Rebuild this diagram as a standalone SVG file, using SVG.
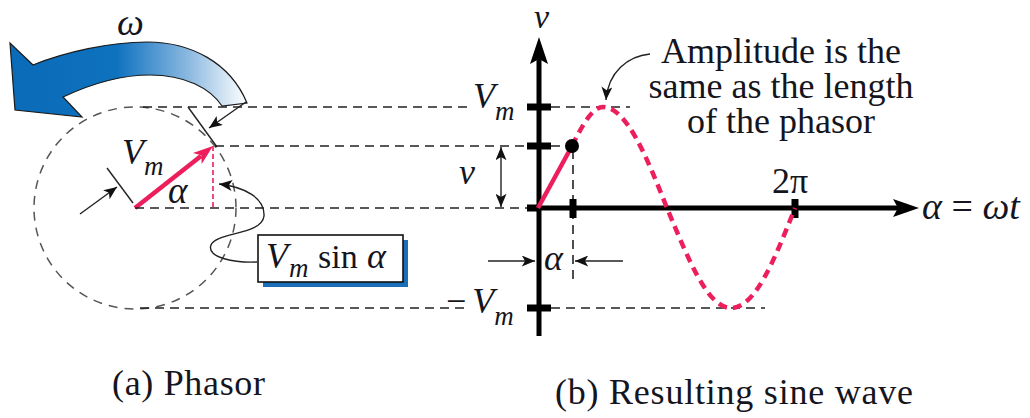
<svg xmlns="http://www.w3.org/2000/svg" width="1030" height="418" viewBox="0 0 1030 418">
<style>
.t{fill:#151520}
.i{font-style:italic}
.dash{fill:none;stroke:#222;stroke-width:1.6;stroke-dasharray:9 6}
.thin{fill:none;stroke:#222;stroke-width:1.4}
.axis{fill:none;stroke:#000;stroke-width:5}
.red{fill:none;stroke:#ec1e5c;stroke-width:4.5}
</style>
<defs>
<marker id="ah" viewBox="0 0 12 10" refX="12" refY="5" markerWidth="16" markerHeight="11" markerUnits="userSpaceOnUse" orient="auto-start-reverse">
<path d="M0,0 L12,5 L0,10 L3,5 Z" fill="#111"/>
</marker>
<linearGradient id="bg" x1="0" y1="0" x2="1" y2="0">
<stop offset="0" stop-color="#0a6bb8"/>
<stop offset="0.45" stop-color="#0f72bf"/>
<stop offset="0.75" stop-color="#8ab8e0"/>
<stop offset="1" stop-color="#ffffff"/>
</linearGradient>
</defs>
<g font-family="'Liberation Serif', 'Times New Roman', serif">
<g id="rotation">
<path d="M247,103 C 230,62 190,42 147,42 C 110,42 65,52 33,65 L 10,43 L 15,110 L 82,117 L 63,97 C 95,82 125,75 150,75 C 185,75 210,88 222,106 Z" fill="url(#bg)" stroke="#1a1a1a" stroke-width="1.2"/>
<text class="t i" x="117" y="35" font-size="38">ω</text>
</g>

<g id="phasor">
<circle cx="135" cy="208" r="101" fill="none" stroke="#555" stroke-width="1.5" stroke-dasharray="9 7"/>
<line x1="213" y1="146" x2="213" y2="208" stroke="#ec1e5c" stroke-width="1.6" stroke-dasharray="5 3"/>
<line x1="135" y1="208" x2="201" y2="156" stroke="#ec1e5c" stroke-width="4.5"/>
<polygon points="213,146 201.7,163.9 201.3,155.3 192.9,152.9" fill="#ec1e5c"/>
<text class="t i" x="122" y="164" font-size="36">V<tspan font-size="27" dy="11">m</tspan></text>
<text class="t i" x="168" y="203" font-size="37">α</text>
</g>

<g id="box">
<rect x="263" y="240" width="145" height="47" fill="#1b6fb8"/>
<rect x="258" y="235" width="145" height="47" fill="#fff" stroke="#111" stroke-width="1.6"/>
<text class="t i" x="266" y="268" font-size="36">V</text>
<text class="t i" x="289" y="277" font-size="27">m</text>
<text class="t" x="318" y="268" font-size="34">sin</text>
<text class="t i" x="367" y="268" font-size="36">α</text>
</g>

<g id="guides">
<path class="dash" d="M143,107 H470 M551,107 H630"/>
<path class="dash" d="M215,146 H527 M551,146 H566"/>
<path class="dash" d="M135,208 H527"/>
<path class="dash" d="M140,308 H470 M551,308 H765"/>
<path class="dash" d="M573,150 V283"/>
</g>

<g id="axes">
<line class="axis" x1="539" y1="336" x2="539" y2="58"/>
<polygon points="539,37 530,64 539,59 548,64" fill="#000"/>
<line class="axis" x1="536" y1="208" x2="898" y2="208"/>
<polygon points="919,208 893,199 898,208 893,217" fill="#000"/>
<rect x="527" y="103.5" width="24" height="7" fill="#000"/>
<rect x="527" y="142.5" width="24" height="7" fill="#000"/>
<rect x="527" y="204.5" width="12" height="7" fill="#000"/>
<rect x="527" y="304.5" width="24" height="7" fill="#000"/>
<rect x="569.5" y="199" width="7" height="19" fill="#000"/>
<rect x="791.5" y="199" width="7" height="19" fill="#000"/>
</g>

<g id="wave">
<path class="red" d="M538,208 C 548,190 562,164 572,146"/>
<path class="red" stroke-dasharray="9 6" d="M572,146 C 582,126 592,107 603,107 C 626,107 646,155 667,208 C 689,261 708,308 731,308 C 755,308 774,261 795,208"/>
<circle cx="572" cy="146" r="7" fill="#000"/>
</g>

<g id="connectors">
<line class="thin" x1="107" y1="168" x2="133" y2="203"/>
<line class="thin" x1="188" y1="107" x2="217" y2="147"/>
<line class="thin" x1="80" y1="214" x2="117" y2="187" marker-end="url(#ah)"/>
<line class="thin" x1="246" y1="102" x2="209" y2="128" marker-end="url(#ah)"/>
<path class="thin" d="M257,262 C 236,263 206,258 211,245 C 216,232 262,235 264,216 C 265,198 245,187 219,184" marker-end="url(#ah)"/>
<path class="thin" d="M650,54 C 628,56 608,72 606,100" marker-end="url(#ah)"/>
<line class="thin" x1="501" y1="147" x2="501" y2="207" marker-start="url(#ah)" marker-end="url(#ah)"/>
<line class="thin" x1="488" y1="261" x2="535" y2="261" marker-end="url(#ah)"/>
<line class="thin" x1="623" y1="261" x2="575" y2="261" marker-end="url(#ah)"/>
</g>

<g id="labels">
<text class="t i" x="534" y="28" font-size="34">v</text>
<text class="t i" x="473" y="108" font-size="36">V<tspan font-size="27" dy="12">m</tspan></text>
<text class="t i" x="459" y="184" font-size="36">v</text>
<text class="t" x="446" y="313" font-size="36">−<tspan class="i" dx="6">V</tspan><tspan class="i" font-size="27" dy="12">m</tspan></text>
<text class="t i" x="544" y="270" font-size="36">α</text>
<text class="t" x="772" y="193" font-size="36">2π</text>
<text class="t" x="922" y="219" font-size="38"><tspan class="i">α</tspan> = <tspan class="i">ωt</tspan></text>
<text class="t" x="781" y="63" font-size="36" text-anchor="middle">Amplitude is the</text>
<text class="t" x="781" y="98" font-size="36" text-anchor="middle">same as the length</text>
<text class="t" x="781" y="133" font-size="36" text-anchor="middle">of the phasor</text>
<text class="t" x="112" y="395" font-size="36" textLength="153">(a) Phasor</text>
<text class="t" x="555" y="404" font-size="36" textLength="358">(b) Resulting sine wave</text>
</g>
</g>
</svg>
